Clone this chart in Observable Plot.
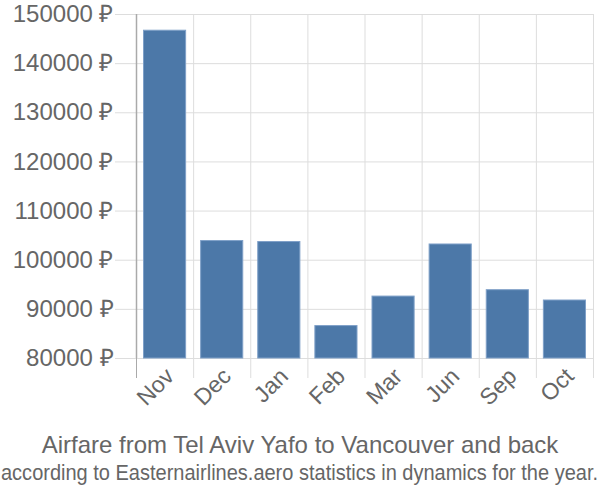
<!DOCTYPE html>
<html><head><meta charset="utf-8">
<script src="https://cdn.jsdelivr.net/npm/d3@7"></script>
<script src="https://cdn.jsdelivr.net/npm/@observablehq/plot@0.6"></script>
<style>
body{margin:0;background:#fff;font-family:"Liberation Sans",Arial,sans-serif;}
#wrap{width:600px;overflow:hidden;}
.t{color:#666;text-align:center;white-space:nowrap;}
#title{font-size:24px;margin-top:11px;line-height:28px;}
#sub{font-size:22px;line-height:28px;text-align:left;}
#sub span{display:inline-block;transform-origin:0 0;margin-left:1px;}
</style></head>
<body><div id="wrap"><div id="chart"></div>
<div id="title" class="t">Airfare from Tel Aviv Yafo to Vancouver and back</div>
<div id="sub" class="t"><span>according to Easternairlines.aero statistics in dynamics for the year.</span></div></div>
<script>
const months = ["Nov","Dec","Jan","Feb","Mar","Jun","Sep","Oct"];
const prices = [146700,103900,103700,86600,92600,103200,93900,91800];
const yTicks = [80000,90000,100000,110000,120000,130000,140000,150000];
const data = months.map((m,i)=>({m, i, v: prices[i]}));
const idx = d3.range(months.length+1);
const mid = months.map((m,i)=>i+0.5);
const chart = Plot.plot({
  width:600, height:420,
  marginLeft:136, marginRight:7, marginTop:14, marginBottom:62,
  style:{fontFamily:"Liberation Sans, Arial, sans-serif", fontSize:"20px", color:"#666"},
  x:{domain:[0,months.length]},
  y:{domain:[80000,150000]},
  marks:[
    Plot.ruleY(yTicks,{stroke:"#ddd"}),
    Plot.axisY({ticks:yTicks, tickSize:21, tickPadding:2, stroke:"#ddd", strokeOpacity:1, fill:"#666", fontSize:24, tickFormat:d=>d+" ₽", label:null}),
    Plot.axisX({ticks:idx, tickSize:20, stroke:"#ddd", strokeOpacity:1, tickFormat:()=>"", label:null}),
    Plot.ruleX(idx,{stroke:"#ddd"}),
    Plot.axisX({ticks:[0], tickSize:20, stroke:"#aaa", strokeOpacity:1, tickFormat:()=>"", label:null}),
    Plot.ruleX([0],{stroke:"#aaa", strokeWidth:1.5}),
    Plot.rectY(data,{x1:"i", x2:d=>d.i+1, y1:80000, y2:"v", insetLeft:7.5, insetRight:7.5, fill:"#4c78a8", stroke:"#7fa0c8", strokeWidth:1}),
    Plot.axisX({ticks:mid, tickSize:0, tickPadding:14, dx:5, tickRotate:-45, fill:"#666", fontSize:23, tickFormat:d=>months[Math.floor(d)], label:null})
  ]
});
document.getElementById("chart").append(chart);
const s = document.querySelector("#sub span");
const w = s.getBoundingClientRect().width;
s.style.transform = `scaleX(${597/w})`;
</script></body></html>
